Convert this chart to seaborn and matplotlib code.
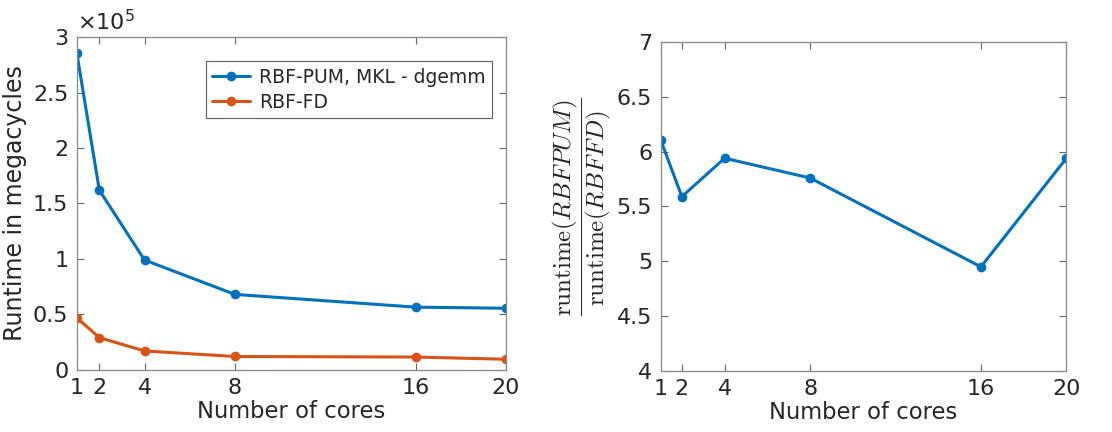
import seaborn as sns
import matplotlib.pyplot as plt
import matplotlib.ticker as mticker
import pandas as pd

# values
cores = [1, 2, 4, 8, 16, 20]
rbf_pum = [2.86e5, 1.62e5, 0.99e5, 0.68e5, 0.565e5, 0.555e5]
rbf_fd = [0.47e5, 0.29e5, 0.17e5, 0.12e5, 0.115e5, 0.095e5]
ratio = [6.11, 5.59, 5.94, 5.76, 4.95, 5.94]
series_names = ["RBF-PUM, MKL - dgemm", "RBF-FD"]

blue = "#0072BD"
orange = "#D95319"
text_col = "#262626"

sns.set_style("ticks")
plt.rcParams['font.family'] = ['DejaVu Sans']
plt.rcParams['mathtext.fontset'] = 'cm'

df = pd.DataFrame({
    'cores': cores * 2,
    'runtime': rbf_pum + rbf_fd,
    'method': [series_names[0]] * len(cores) + [series_names[1]] * len(cores),
})
df_ratio = pd.DataFrame({'cores': cores, 'ratio': ratio})

fig = plt.figure(figsize=(11.12, 4.32), dpi=100)
ax1 = fig.add_axes([0.069, 0.144, 0.386, 0.770])
ax2 = fig.add_axes([0.594, 0.141, 0.365, 0.762])

sns.lineplot(data=df, x='cores', y='runtime', hue='method', ax=ax1,
             palette=[blue, orange], marker='o', markersize=7,
             markeredgewidth=0, linewidth=2.2)
sns.lineplot(data=df_ratio, x='cores', y='ratio', ax=ax2, color=blue,
             marker='o', markersize=7, markeredgewidth=0, linewidth=2.2)

for ax in (ax1, ax2):
    ax.set_xlim(1, 20)
    ax.set_xticks(cores)
    ax.tick_params(direction='in', top=True, right=True, length=5, pad=6,
                   labelsize=16, colors=text_col, color='#666666', width=0.8)
    for s in ax.spines.values():
        s.set_visible(True)
        s.set_color('#888888')
        s.set_linewidth(0.9)
    ax.yaxis.set_major_formatter(mticker.FuncFormatter(lambda v, p: '%g' % v))
    ax.set_xlabel('Number of cores', fontsize=16.3, color=text_col, labelpad=1)

ax1.set_ylim(0, 3e5)
ax1.set_yticks([0, 0.5e5, 1e5, 1.5e5, 2e5, 2.5e5, 3e5])
ax1.yaxis.set_major_formatter(mticker.FuncFormatter(lambda v, p: '%g' % (v / 1e5)))
ax1.set_ylabel('Runtime in megacycles', fontsize=17, color=text_col, labelpad=4)
ax1.text(0.0, 1.01, r'$\times10^{5}$', transform=ax1.transAxes, fontsize=16,
         color=text_col, ha='left', va='bottom',
         fontfamily='DejaVu Sans', math_fontfamily='dejavusans')

leg = ax1.legend(loc='upper right', fontsize=13.5, frameon=True, fancybox=False,
                 borderpad=0.35, handlelength=2.0, labelspacing=0.3,
                 handletextpad=0.5, bbox_to_anchor=(0.99, 0.955))
leg.get_frame().set_edgecolor('#333333')
leg.get_frame().set_linewidth(0.8)
for t in leg.get_texts():
    t.set_color(text_col)

ax2.set_ylim(4, 7)
ax2.set_yticks([4, 4.5, 5, 5.5, 6, 6.5, 7])
ax2.set_ylabel(r'$\dfrac{\mathrm{runtime}(RBFPUM)}{\mathrm{runtime}(RBFFD)}$',
               fontsize=18, color=text_col, labelpad=3)

plt.savefig('out.png', dpi=100)
